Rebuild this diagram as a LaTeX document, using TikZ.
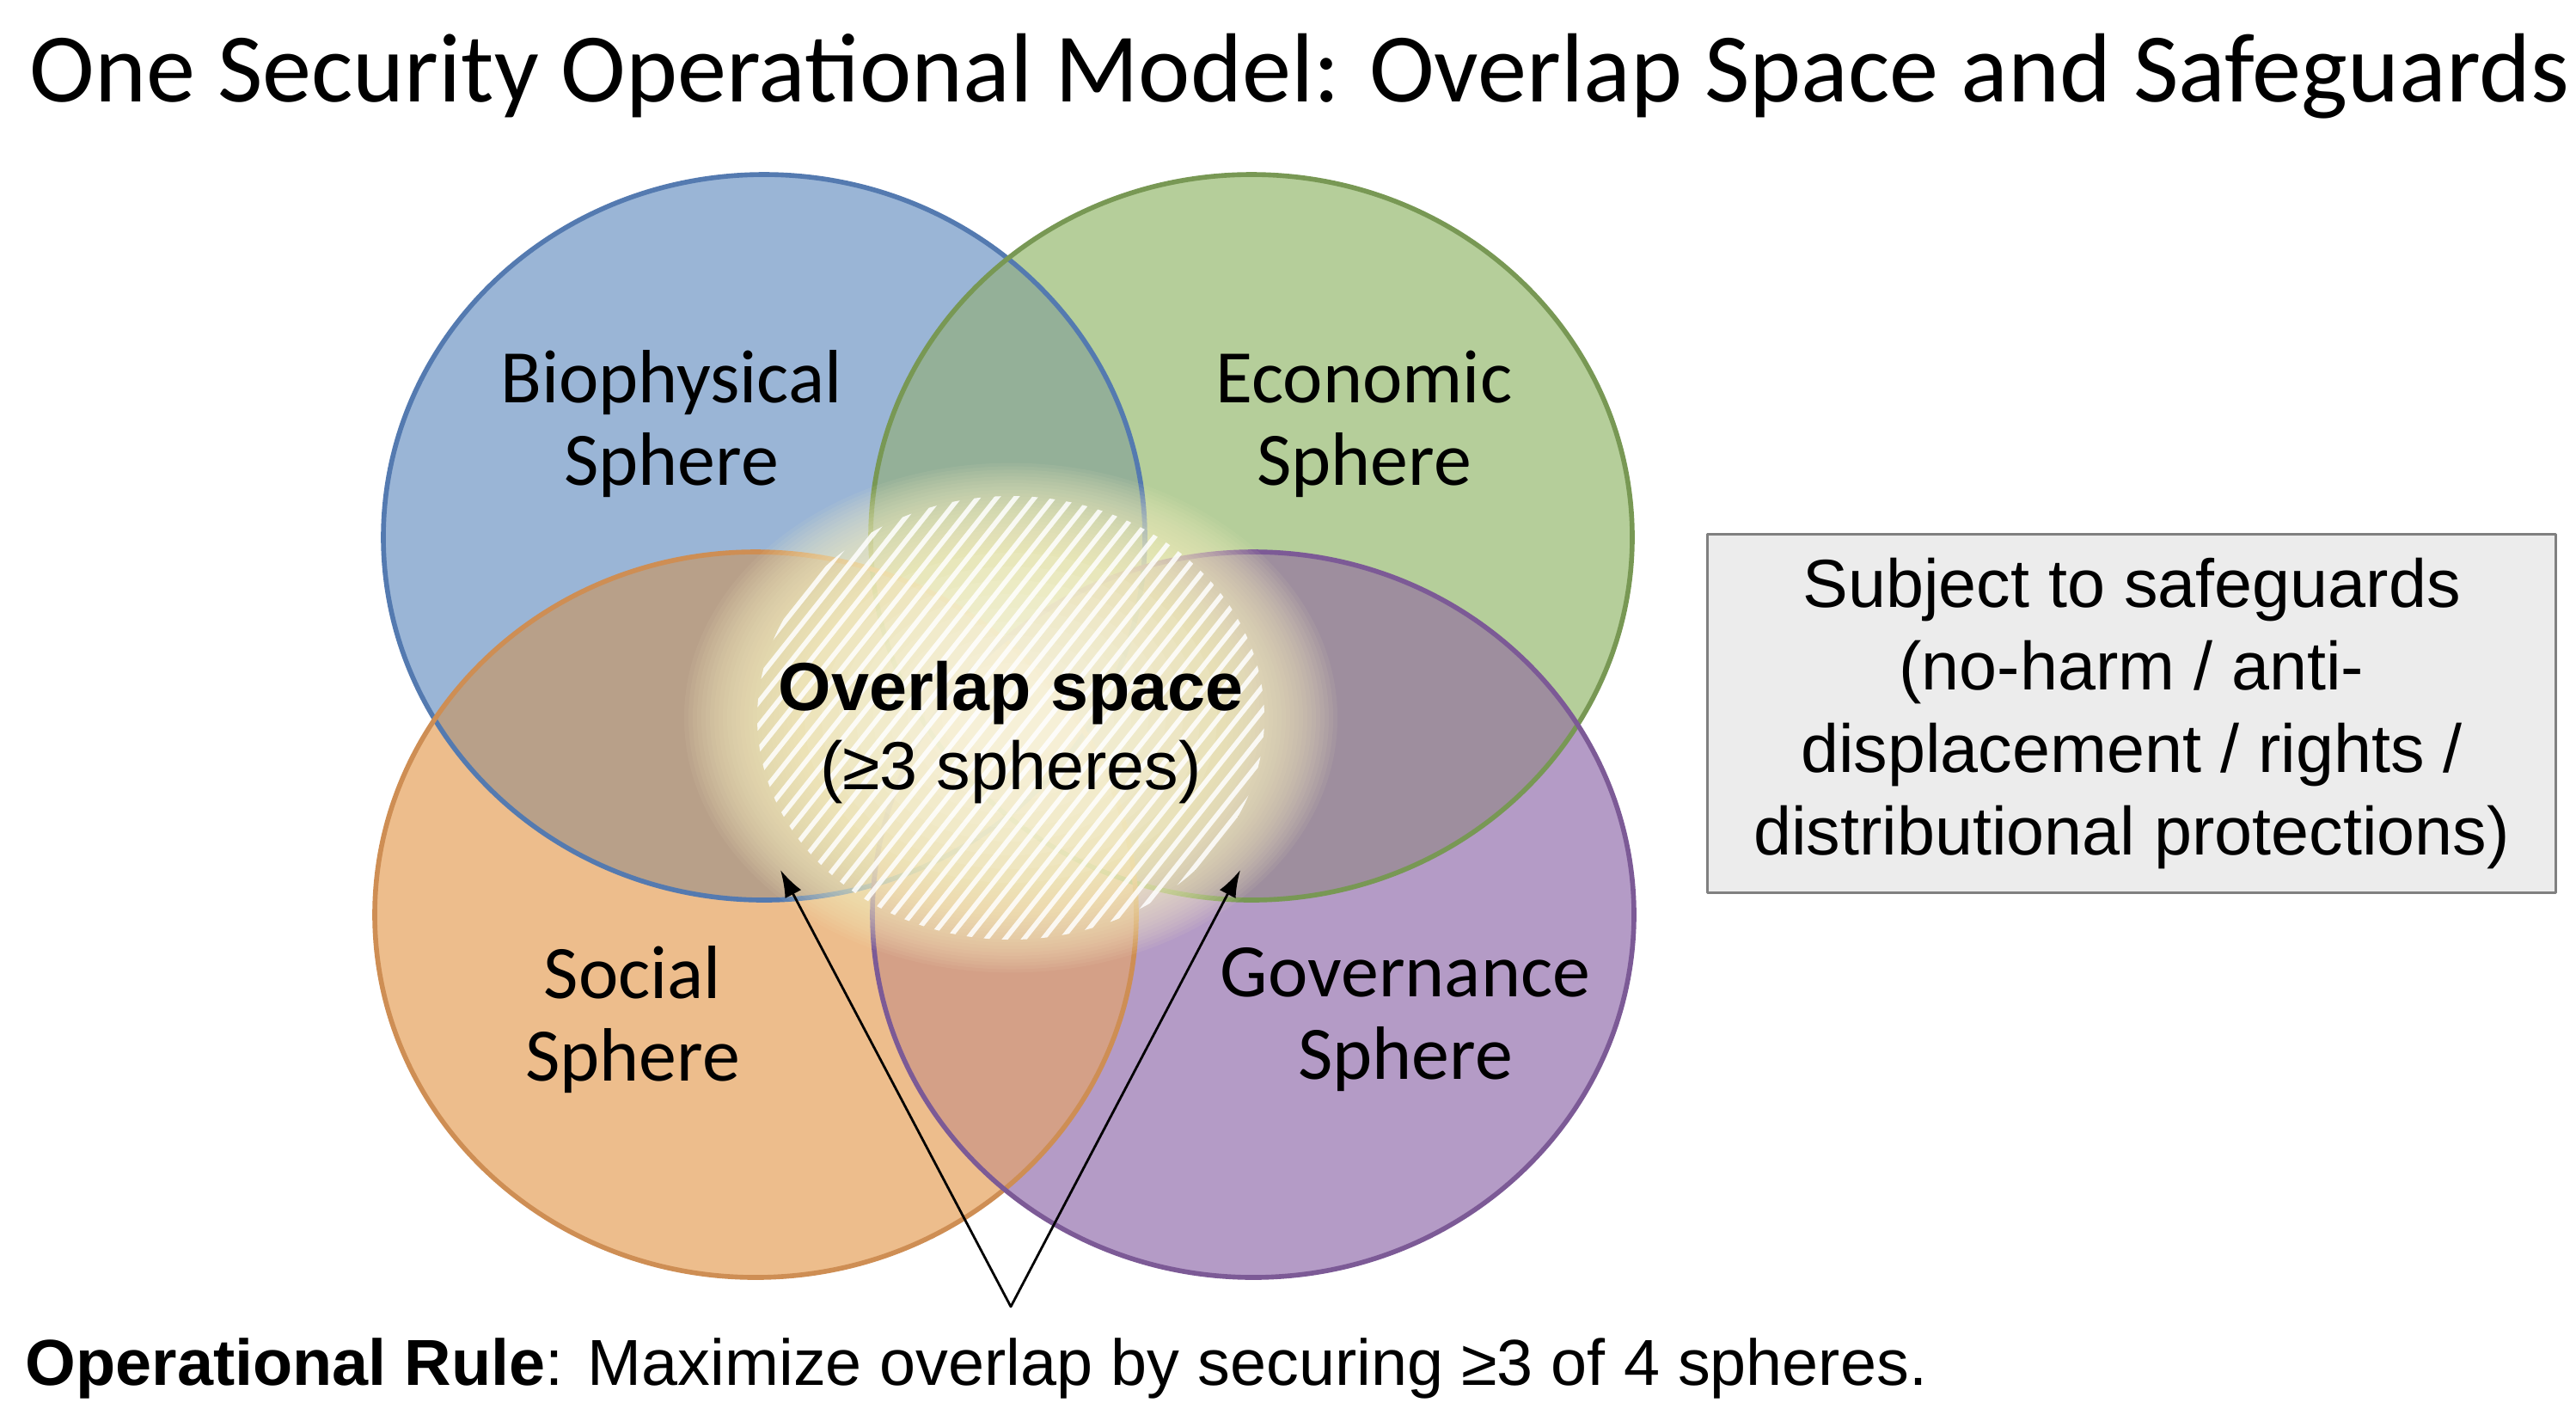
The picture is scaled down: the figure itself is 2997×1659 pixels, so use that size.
\documentclass[tikz,border=0pt]{standalone}
\usepackage{fontspec}
\setmainfont{Liberation Sans}
\newfontfamily\calfont{Carlito}
\usetikzlibrary{arrows.meta}

\definecolor{bioF}{RGB}{154,181,214}
\definecolor{bioD}{RGB}{84,122,176}
\definecolor{ecoF}{RGB}{181,206,154}
\definecolor{ecoD}{RGB}{120,152,84}
\definecolor{socF}{RGB}{237,189,140}
\definecolor{socD}{RGB}{206,142,84}
\definecolor{govF}{RGB}{180,155,198}
\definecolor{govD}{RGB}{124,90,150}
\definecolor{bioecoF}{RGB}{148,176,152}
\definecolor{biosocF}{RGB}{184,160,137}
\definecolor{ecogovF}{RGB}{158,142,158}
\definecolor{socgovF}{RGB}{212,160,135}
\definecolor{glowyel}{RGB}{251,244,196}
\definecolor{glowcore}{RGB}{255,253,238}
\definecolor{boxF}{RGB}{236,236,236}
\definecolor{boxD}{RGB}{128,128,128}

\begin{document}
\begin{tikzpicture}[x=0.01cm, y=-0.01cm, line join=round, line cap=round,
    sphere/.style={font=\calfont\fontsize{25}{27.3}\selectfont, align=center},
    rim/.style={line width=1.6pt},
    hatch/.style={white, opacity=0.85, line width=1.6pt},
    safebox/.style={draw=boxD, fill=boxF, line width=0.85pt, minimum width=9.86cm,
      minimum height=4.17cm, align=center, inner sep=0pt,
      font=\fontsize{22.5}{27.3}\selectfont},
    pointer/.style={-{Latex[length=9pt, width=6pt]}, line width=0.8pt}]
  \useasboundingbox (0,0) rectangle (2997,1659);
  \def\rx{443}
  \def\ry{422}

  \coordinate (B) at (889,625);
  \coordinate (E) at (1456,625);
  \coordinate (S) at (879,1064);
  \coordinate (G) at (1458,1064);
  \coordinate (H) at (1176,835);

  % Fill spheres
  \fill[bioF] (B) ellipse [x radius=\rx, y radius=\ry];
  \fill[ecoF] (E) ellipse [x radius=\rx, y radius=\ry];
  \fill[socF] (S) ellipse [x radius=\rx, y radius=\ry];
  \fill[govF] (G) ellipse [x radius=\rx, y radius=\ry];
  % Pairwise overlaps
  \begin{scope}
    \clip (B) ellipse [x radius=\rx, y radius=\ry];
    \fill[bioecoF] (E) ellipse [x radius=\rx, y radius=\ry];
    \fill[biosocF] (S) ellipse [x radius=\rx, y radius=\ry];
  \end{scope}
  \begin{scope}
    \clip (G) ellipse [x radius=\rx, y radius=\ry];
    \fill[ecogovF] (E) ellipse [x radius=\rx, y radius=\ry];
    \fill[socgovF] (S) ellipse [x radius=\rx, y radius=\ry];
  \end{scope}
  % Rims
  \draw[rim, bioD] (B) ellipse [x radius=\rx, y radius=\ry];
  \draw[rim, ecoD] (E) ellipse [x radius=\rx, y radius=\ry];
  \draw[rim, socD] (S) ellipse [x radius=\rx, y radius=\ry];
  \draw[rim, govD] (G) ellipse [x radius=\rx, y radius=\ry];

  % Glow of the overlap space
  \foreach \r in {380,375,...,250}
    \fill[glowyel, opacity=0.07] (H) ellipse [x radius=\r, y radius={0.78*\r}];
  \foreach \r in {240,220,...,60}
    \fill[glowcore, opacity=0.1] (H) ellipse [x radius=\r, y radius={0.8*\r}];
  % Hatching
  \begin{scope}
    \clip (H) ellipse [x radius=295, y radius=258];
    \foreach \k in {-40,...,40}
      \draw[hatch] ({1176+\k*22-330},1250) -- ({1176+\k*22+330},420);
  \end{scope}

  % Labels
  \node[sphere] (bio) at (781,493) {Biophysical\\Sphere};
  \node[sphere] (eco) at (1587,493) {Economic\\Sphere};
  \node[sphere] (soc) at (736,1186) {Social\\Sphere};
  \node[sphere] (gov) at (1635,1186) {Governance\\Sphere};
  \node[align=center, font=\fontsize{22.5}{26}\selectfont] (overlap) at (1176,852)
    {\textbf{Overlap space}\\(≥3 spheres)};

  \node[safebox] (safe) at (2480,830)
    {Subject to safeguards\\(no-harm / anti-\\displacement / rights /\\distributional protections)};

  % Pointers
  \coordinate (apex) at (1176,1520);
  \coordinate (tipL) at (908,1012);
  \coordinate (tipR) at (1443,1012);
  \draw[pointer] (apex) -- (tipL);
  \draw[pointer] (apex) -- (tipR);

  \node[anchor=base west, inner sep=0pt, font=\calfont\fontsize{32.5}{38}\selectfont] (title) at (34,118)
    {One Security Operational Model: Overlap Space and Safeguards};
  \node[anchor=base west, inner sep=0pt, font=\fontsize{21.5}{25}\selectfont] (rule) at (29,1611)
    {\textbf{Operational Rule}: Maximize overlap by securing ≥3 of 4 spheres.};
\end{tikzpicture}
\end{document}
